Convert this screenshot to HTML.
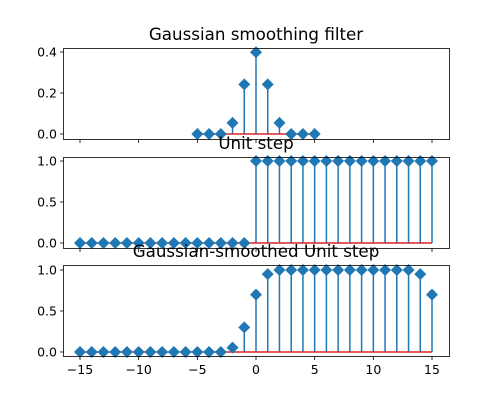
<!DOCTYPE html>
<html><head><meta charset="utf-8"><style>
body{margin:0;background:#fff}
svg{display:block;font-family:"DejaVu Sans","Liberation Sans",sans-serif}
</style></head><body>
<svg id="chart" width="500" height="400" xmlns="http://www.w3.org/2000/svg"></svg>
<script>
const filterX = [-5,-4,-3,-2,-1,0,1,2,3,4,5];
const filterY = [0,0,0,0.054,0.242,0.399,0.242,0.054,0,0,0];
const stepX = [-15,-14,-13,-12,-11,-10,-9,-8,-7,-6,-5,-4,-3,-2,-1,0,1,2,3,4,5,6,7,8,9,10,11,12,13,14,15];
const stepY = [0,0,0,0,0,0,0,0,0,0,0,0,0,0,0,1,1,1,1,1,1,1,1,1,1,1,1,1,1,1,1];
const smoothY = [0,0,0,0,0,0,0,0,0,0,0,0,0,0.054,0.30,0.70,0.95,1,1,1,1,1,1,1,1,1,1,1,1,0.95,0.70];
const xTicks = [-15,-10,-5,0,5,10,15];
const yTicks1 = [0,0.2,0.4];
const yTickLabels1 = ["0.0","0.2","0.4"];
const yTicks2 = [0,0.5,1];
const yTickLabels2 = ["0.0","0.5","1.0"];

const svg = document.getElementById('chart');
const NS = 'http://www.w3.org/2000/svg';
function mk(tag, attrs, parent){const e=document.createElementNS(NS,tag);for(const k in attrs)e.setAttribute(k,attrs[k]);(parent||svg).appendChild(e);return e;}
const X = v => 256 + v*(352/30);

const panels = [
 {title:'Gaussian smoothing filter', top:48, bot:139, y0:134, y1:52, vmax:0.4, xs:filterX, ys:filterY, yt:yTicks1, yl:yTickLabels1, ty:40, name:'filter', xlabels:false},
 {title:'Unit step', top:157, bot:248, y0:243, y1:161, vmax:1, xs:stepX, ys:stepY, yt:yTicks2, yl:yTickLabels2, ty:149, name:'unit-step', xlabels:false},
 {title:'Gaussian-smoothed Unit step', top:265, bot:356, y0:352, y1:270, vmax:1, xs:stepX, ys:smoothY, yt:yTicks2, yl:yTickLabels2, ty:257, name:'smoothed', xlabels:true}
];
panels.forEach(p=>{
  const g = mk('g',{});
  
  
  const Y = v => p.y0 - v/p.vmax*(p.y0-p.y1);
  p.xs.forEach((x,i)=>{
    const l = mk('line',{x1:X(x),x2:X(x),y1:Y(0),y2:Y(p.ys[i]),stroke:'#1f77b4','stroke-width':1.5},g);
    
    
  });
  const bl = mk('line',{x1:X(p.xs[0]),x2:X(p.xs[p.xs.length-1]),y1:Y(0),y2:Y(0),stroke:'#d62728','stroke-width':1.5},g);
  
  
  p.xs.forEach((x,i)=>{
    const cx=X(x), cy=Y(p.ys[i]), r=6;
    const m = mk('polygon',{points:`${cx},${cy-r} ${cx+r},${cy} ${cx},${cy+r} ${cx-r},${cy}`,fill:'#1f77b4'},g);
    
    
  });
  const fr = mk('rect',{x:63.5,y:p.top+0.5,width:386,height:p.bot-p.top,fill:'none',stroke:'#000','stroke-width':0.8},g);
  
  
  xTicks.forEach(t=>{
    mk('line',{x1:X(t),x2:X(t),y1:p.bot+0.5,y2:p.bot+4,stroke:'#000','stroke-width':0.8},g);
    if(p.xlabels){
      const tx = mk('text',{x:X(t),y:p.bot+18,'text-anchor':'middle','font-size':12.5},g);
      tx.textContent = t<0 ? '\u2212'+Math.abs(t) : String(t);
      
      
    }
  });
  p.yt.forEach((t,i)=>{
    mk('line',{x1:60,x2:63.5,y1:Y(t),y2:Y(t),stroke:'#000','stroke-width':0.8},g);
    const ty = mk('text',{x:57,y:Y(t)+4.5,'text-anchor':'end','font-size':12.5},g);
    ty.textContent = p.yl[i];
    
    
  });
  const tt = mk('text',{x:256,y:p.ty,'text-anchor':'middle','font-size':16.7},g);
  tt.textContent = p.title;
  
  
});
</script>
</body></html>
